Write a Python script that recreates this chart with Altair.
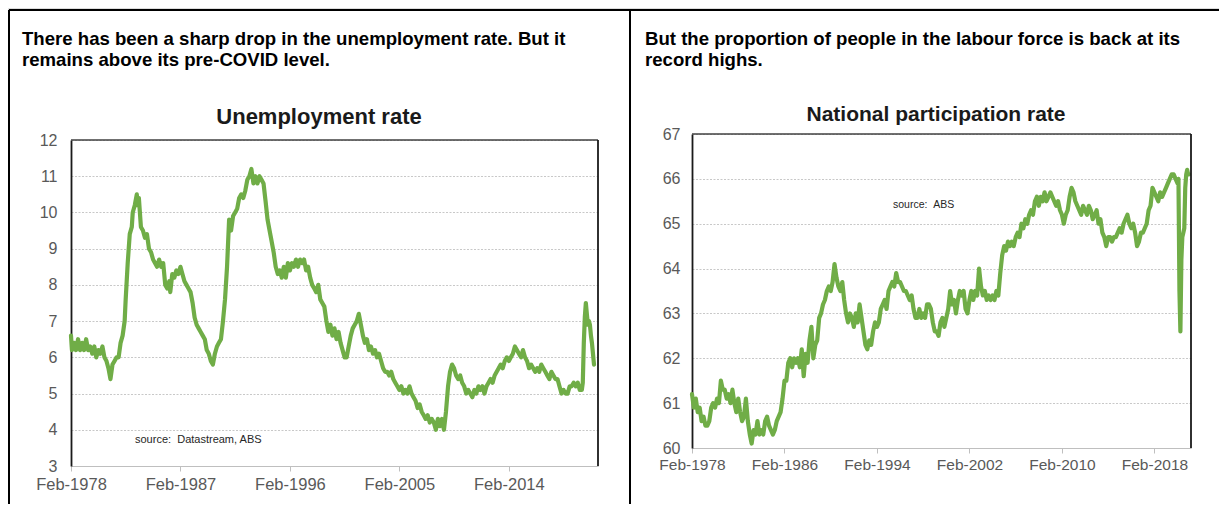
import altair as alt
import pandas as pd

# ---------------- data ----------------
unemp_dates = [
    "1978-02", "1978-03", "1978-05", "1978-07", "1978-09", "1978-11",
    "1979-01", "1979-03", "1979-05", "1979-07", "1979-09", "1979-11",
    "1980-01", "1980-03", "1980-05", "1980-07", "1980-09", "1980-11",
    "1981-01", "1981-03", "1981-05", "1981-07", "1981-09", "1981-11",
    "1982-01", "1982-03", "1982-05", "1982-07", "1982-08", "1982-10", "1982-12",
    "1983-02", "1983-03", "1983-05", "1983-07", "1983-08", "1983-09", "1983-11",
    "1984-01", "1984-03", "1984-05", "1984-07", "1984-09", "1984-11",
    "1985-01", "1985-03", "1985-05", "1985-07", "1985-09", "1985-11",
    "1986-01", "1986-03", "1986-04", "1986-06", "1986-08", "1986-10", "1986-12",
    "1987-02", "1987-04", "1987-06", "1987-08", "1987-10", "1987-12",
    "1988-02", "1988-04", "1988-06", "1988-08", "1988-10", "1988-12",
    "1989-02", "1989-04", "1989-06", "1989-08", "1989-10", "1989-12",
    "1990-02", "1990-04", "1990-06", "1990-08", "1990-10", "1990-12",
    "1991-02", "1991-04", "1991-06", "1991-08", "1991-10", "1991-12",
    "1992-02", "1992-04", "1992-06", "1992-08", "1992-10", "1992-12",
    "1993-02", "1993-04", "1993-06", "1993-08", "1993-10", "1993-12",
    "1994-02", "1994-04", "1994-06", "1994-08", "1994-10", "1994-12",
    "1995-02", "1995-04", "1995-06", "1995-08", "1995-10", "1995-12",
    "1996-02", "1996-04", "1996-06", "1996-08", "1996-10", "1996-12",
    "1997-02", "1997-04", "1997-06", "1997-08", "1997-10", "1997-12",
    "1998-02", "1998-04", "1998-06", "1998-08", "1998-10", "1998-12",
    "1999-02", "1999-04", "1999-06", "1999-08", "1999-10", "1999-12",
    "2000-02", "2000-04", "2000-06", "2000-08", "2000-10", "2000-12",
    "2001-02", "2001-04", "2001-06", "2001-08", "2001-10", "2001-12",
    "2002-02", "2002-04", "2002-06", "2002-08", "2002-10", "2002-12",
    "2003-02", "2003-04", "2003-06", "2003-08", "2003-10", "2003-12",
    "2004-02", "2004-04", "2004-06", "2004-08", "2004-10", "2004-12",
    "2005-02", "2005-04", "2005-06", "2005-08", "2005-10", "2005-12",
    "2006-02", "2006-04", "2006-06", "2006-08", "2006-10", "2006-12",
    "2007-02", "2007-04", "2007-06", "2007-08", "2007-10", "2007-12",
    "2008-02", "2008-04", "2008-06", "2008-08", "2008-10", "2008-12",
    "2009-02", "2009-04", "2009-06", "2009-08", "2009-10", "2009-12",
    "2010-02", "2010-04", "2010-06", "2010-08", "2010-10", "2010-12",
    "2011-02", "2011-04", "2011-06", "2011-08", "2011-10", "2011-12",
    "2012-02", "2012-04", "2012-06", "2012-08", "2012-10", "2012-12",
    "2013-02", "2013-04", "2013-06", "2013-08", "2013-10", "2013-12",
    "2014-02", "2014-04", "2014-06", "2014-08", "2014-10", "2014-12",
    "2015-02", "2015-04", "2015-06", "2015-08", "2015-10", "2015-12",
    "2016-02", "2016-04", "2016-06", "2016-08", "2016-10", "2016-12",
    "2017-02", "2017-04", "2017-06", "2017-08", "2017-10", "2017-12",
    "2018-02", "2018-04", "2018-06", "2018-08", "2018-10", "2018-12",
    "2019-02", "2019-04", "2019-06", "2019-08", "2019-10", "2019-12",
    "2020-02", "2020-03", "2020-04", "2020-05", "2020-06", "2020-07",
    "2020-08", "2020-09", "2020-10", "2020-11", "2020-12", "2021-01", "2021-02",
]
unemp_values = [
    6.6, 6.2, 6.4, 6.2, 6.5, 6.2,
    6.4, 6.2, 6.5, 6.2, 6.3, 6.1,
    6.3, 6.0, 6.2, 6.1, 6.3, 6.0,
    5.9, 5.7, 5.4, 5.8, 5.9, 6.0,
    6.0, 6.4, 6.6, 7.0, 7.6, 8.6, 9.4,
    9.6, 10.0, 10.2, 10.5, 10.2, 10.4, 9.6,
    9.5, 9.3, 9.4, 9.0, 8.9, 8.7,
    8.6, 8.5, 8.7, 8.5, 8.6, 8.0,
    7.9, 8.1, 7.8, 8.3, 8.2, 8.4, 8.3,
    8.5, 8.3, 8.1, 8.0, 7.9, 7.8,
    7.5, 7.1, 6.9, 6.8, 6.7, 6.6,
    6.5, 6.2, 6.1, 5.9, 5.8, 6.1,
    6.3, 6.4, 6.5, 7.0, 7.6, 8.5,
    9.8, 9.5, 9.9, 10.0, 10.1, 10.4,
    10.5, 10.4, 10.6, 10.9, 11.0, 11.2,
    10.8, 11.0, 10.8, 11.0, 10.9, 10.8,
    10.3, 9.8, 9.5, 9.2, 8.9, 8.5,
    8.3, 8.4, 8.2, 8.5, 8.2, 8.6,
    8.4, 8.6, 8.5, 8.7, 8.5, 8.7,
    8.6, 8.7, 8.4, 8.5, 8.2, 8.0,
    7.9, 7.8, 8.0, 7.6, 7.5, 7.4,
    7.0, 6.7, 6.9, 6.6, 6.8, 6.5,
    6.7, 6.4, 6.2, 6.0, 6.0, 6.3,
    6.6, 6.8, 6.9, 7.0, 7.2, 6.9,
    6.6, 6.4, 6.5, 6.2, 6.3, 6.1,
    6.2, 6.0, 6.1, 5.9, 5.7, 5.6,
    5.6, 5.5, 5.6, 5.4, 5.3, 5.2,
    5.1, 5.2, 5.0, 5.1, 5.0, 5.2,
    5.0, 4.9, 4.8, 4.6, 4.7, 4.5,
    4.4, 4.3, 4.4, 4.2, 4.3, 4.2,
    4.0, 4.3, 4.1, 4.3, 4.0, 4.5,
    5.2, 5.6, 5.8, 5.7, 5.5, 5.4,
    5.5, 5.3, 5.2, 5.0, 5.1, 5.0,
    4.9, 5.1, 5.0, 5.2, 5.1, 5.2,
    5.0, 5.2, 5.3, 5.4, 5.3, 5.5,
    5.6, 5.7, 5.8, 5.7, 5.9, 6.0,
    5.9, 6.0, 6.1, 6.3, 6.2, 6.1,
    6.0, 6.2, 6.0, 5.9, 5.7, 5.8,
    5.7, 5.6, 5.7, 5.6, 5.8, 5.7,
    5.6, 5.5, 5.4, 5.6, 5.5, 5.4,
    5.4, 5.2, 5.0, 5.1, 5.0, 5.0,
    5.2, 5.2, 5.3, 5.2, 5.3, 5.1,
    5.1, 5.3, 6.4, 7.1, 7.5, 7.2,
    6.9, 7.0, 6.9, 6.6, 6.4, 6.1, 5.8,
]

part_dates = [
    "1978-02", "1978-04", "1978-06", "1978-08", "1978-10", "1978-12",
    "1979-02", "1979-04", "1979-06", "1979-08", "1979-10", "1979-12",
    "1980-02", "1980-04", "1980-06", "1980-08", "1980-10", "1980-12",
    "1981-02", "1981-04", "1981-06", "1981-08", "1981-10", "1981-12",
    "1982-02", "1982-04", "1982-06", "1982-08", "1982-10", "1982-12",
    "1983-02", "1983-04", "1983-06", "1983-08", "1983-10", "1983-12",
    "1984-02", "1984-04", "1984-06", "1984-08", "1984-10", "1984-12",
    "1985-02", "1985-04", "1985-06", "1985-08", "1985-10", "1985-12",
    "1986-02", "1986-04", "1986-06", "1986-08", "1986-10", "1986-12",
    "1987-02", "1987-04", "1987-06", "1987-08", "1987-10", "1987-12",
    "1988-02", "1988-04", "1988-06", "1988-08", "1988-10", "1988-12",
    "1989-02", "1989-04", "1989-06", "1989-08", "1989-10", "1989-12",
    "1990-02", "1990-04", "1990-06", "1990-08", "1990-10", "1990-12",
    "1991-02", "1991-04", "1991-06", "1991-08", "1991-10", "1991-12",
    "1992-02", "1992-04", "1992-06", "1992-08", "1992-10", "1992-12",
    "1993-02", "1993-04", "1993-06", "1993-08", "1993-10", "1993-12",
    "1994-02", "1994-04", "1994-06", "1994-08", "1994-10", "1994-12",
    "1995-02", "1995-04", "1995-06", "1995-08", "1995-10", "1995-12",
    "1996-02", "1996-04", "1996-06", "1996-08", "1996-10", "1996-12",
    "1997-02", "1997-04", "1997-06", "1997-08", "1997-10", "1997-12",
    "1998-02", "1998-04", "1998-06", "1998-08", "1998-10", "1998-12",
    "1999-02", "1999-04", "1999-06", "1999-08", "1999-10", "1999-12",
    "2000-02", "2000-04", "2000-06", "2000-08", "2000-10", "2000-12",
    "2001-02", "2001-04", "2001-06", "2001-08", "2001-10", "2001-12",
    "2002-02", "2002-04", "2002-06", "2002-08", "2002-10", "2002-12",
    "2003-02", "2003-04", "2003-06", "2003-08", "2003-10", "2003-12",
    "2004-02", "2004-04", "2004-06", "2004-08", "2004-10", "2004-12",
    "2005-02", "2005-04", "2005-06", "2005-08", "2005-10", "2005-12",
    "2006-02", "2006-04", "2006-06", "2006-08", "2006-10", "2006-12",
    "2007-02", "2007-04", "2007-06", "2007-08", "2007-10", "2007-12",
    "2008-02", "2008-04", "2008-06", "2008-08", "2008-10", "2008-12",
    "2009-02", "2009-04", "2009-06", "2009-08", "2009-10", "2009-12",
    "2010-02", "2010-04", "2010-06", "2010-08", "2010-10", "2010-12",
    "2011-02", "2011-04", "2011-06", "2011-08", "2011-10", "2011-12",
    "2012-02", "2012-04", "2012-06", "2012-08", "2012-10", "2012-12",
    "2013-02", "2013-04", "2013-06", "2013-08", "2013-10", "2013-12",
    "2014-02", "2014-04", "2014-06", "2014-08", "2014-10", "2014-12",
    "2015-02", "2015-04", "2015-06", "2015-08", "2015-10", "2015-12",
    "2016-02", "2016-04", "2016-06", "2016-08", "2016-10", "2016-12",
    "2017-02", "2017-04", "2017-06", "2017-08", "2017-10", "2017-12",
    "2018-02", "2018-04", "2018-06", "2018-08", "2018-10", "2018-12",
    "2019-02", "2019-04", "2019-06", "2019-08", "2019-10", "2019-12",
    "2020-02", "2020-03", "2020-04", "2020-05", "2020-06", "2020-07",
    "2020-08", "2020-09", "2020-10", "2020-11", "2020-12", "2021-01", "2021-02",
]
part_values = [
    61.2, 60.9, 61.1, 60.8, 60.9, 60.6,
    60.7, 60.5, 60.5, 60.6, 60.9, 61.0,
    60.9, 61.1, 61.0, 61.5, 61.3, 61.3,
    61.1, 61.2, 61.0, 61.3, 61.0, 60.8,
    61.1, 60.8, 60.6, 60.7, 61.1, 60.6,
    60.3, 60.1, 60.4, 60.3, 60.6, 60.3,
    60.4, 60.3, 60.6, 60.7, 60.5, 60.4,
    60.3, 60.4, 60.6, 60.7, 60.8, 61.1,
    61.5, 61.5, 61.9, 62.0, 61.8, 62.0,
    61.9, 62.0, 61.8, 62.2, 61.6, 62.1,
    61.9, 62.4, 62.7, 62.0, 62.3, 62.4,
    62.9, 63.0, 63.2, 63.3, 63.5, 63.6,
    63.5, 63.7, 64.1, 63.8, 63.6, 63.5,
    63.7, 63.3, 63.0, 62.8, 63.0, 62.9,
    62.7, 63.0, 62.8, 63.2, 62.9, 62.6,
    62.3, 62.2, 62.4, 62.3, 62.6, 62.8,
    62.7, 62.8, 63.1, 63.2, 63.3, 63.1,
    63.5, 63.6, 63.7, 63.6, 63.9, 63.7,
    63.7, 63.6, 63.5, 63.5, 63.4, 63.3,
    63.4, 63.1, 62.9, 62.9, 63.1, 62.9,
    63.0, 62.9, 63.2, 63.2, 63.1, 62.8,
    62.6, 62.6, 62.5, 62.8, 62.9, 62.7,
    62.9, 63.1, 63.5, 63.2, 63.3, 63.0,
    63.3, 63.5, 63.4, 63.5, 63.1, 63.0,
    63.3, 63.5, 63.3, 63.5, 63.4, 64.0,
    63.6, 63.4, 63.5, 63.3, 63.4, 63.3,
    63.4, 63.3, 63.5, 63.4, 63.9, 64.3,
    64.5, 64.4, 64.6, 64.5, 64.6, 64.5,
    64.7, 64.8, 64.7, 65.0, 64.9, 65.1,
    65.0, 65.2, 65.3, 65.2, 65.5, 65.6,
    65.4, 65.6, 65.5, 65.7, 65.5, 65.6,
    65.7, 65.6, 65.5, 65.4, 65.5, 65.3,
    65.2, 65.0, 65.2, 65.3, 65.6, 65.8,
    65.7, 65.5, 65.4, 65.3, 65.2, 65.4,
    65.3, 65.2, 65.4, 65.3, 65.1, 65.2,
    65.3, 65.0, 65.1, 64.8, 64.7, 64.5,
    64.7, 64.7, 64.6, 64.7, 64.7, 64.8,
    64.9, 64.8, 65.0, 65.1, 65.2, 65.0,
    64.9, 65.0, 64.8, 64.5, 64.6, 64.8,
    64.8, 64.9, 65.0, 65.3, 65.4, 65.8,
    65.7, 65.6, 65.5, 65.7, 65.6, 65.7,
    65.8, 65.9, 66.0, 66.1, 66.1, 66.0,
    65.9, 66.0, 63.5, 62.6, 64.2, 64.7,
    64.8, 64.9, 65.8, 66.1, 66.2, 66.1, 66.1,
]

unemp_yticks = [3, 4, 5, 6, 7, 8, 9, 10, 11, 12]
part_yticks = [60, 61, 62, 63, 64, 65, 66, 67]
unemp_xtick_years = [1978, 1987, 1996, 2005, 2014]
part_xtick_years = [1978, 1986, 1994, 2002, 2010, 2018]

left_caption = ["There has been a sharp drop in the unemployment rate. But it",
                "remains above its pre-COVID level."]
right_caption = ["But the proportion of people in the labour force is back at its",
                 "record highs."]
left_title = "Unemployment rate"
right_title = "National participation rate"
left_source = "source:\u00a0\u00a0Datastream, ABS"
right_source = "source:\u00a0\u00a0ABS"

# ---------------- styling ----------------
GREEN = "#70AD47"
FONT = "Liberation Sans"
LABEL = "#595959"
GRID = "#c8c8c8"
W, H = 1211, 496


def dt(year, month):
    return alt.DateTime(year=year, month=month, date=1, utc=True)


def full(d):
    return d + "-01"


u_df = pd.DataFrame({"date": [full(d) for d in unemp_dates], "value": unemp_values})
p_df = pd.DataFrame({"date": [full(d) for d in part_dates], "value": part_values})
one = alt.Data(values=[{"k": 1}])


def line_layer(df, xdom, xrange, ydom, yrange, xticks, yticks, xoff, yoff,
               xlabsize, xlabpad, ylabpad):
    return alt.Chart(df).mark_line(
        color=GREEN, strokeWidth=4.2, strokeJoin="round", strokeCap="round"
    ).encode(
        x=alt.X("date:T",
                scale=alt.Scale(type="utc", domain=xdom, range=xrange),
                axis=alt.Axis(values=[dt(y, 2) for y in xticks], format="%b-%Y",
                              orient="bottom", offset=xoff, grid=False,
                              domainColor="#bfbfbf", domainWidth=1.2,
                              tickColor="#bfbfbf", tickSize=5, labelPadding=xlabpad,
                              labelFontSize=xlabsize, labelColor=LABEL, labelFont=FONT,
                              labelFlush=False, labelOverlap=False, title=None)),
        y=alt.Y("value:Q",
                scale=alt.Scale(domain=ydom, range=yrange, nice=False, zero=False),
                axis=alt.Axis(values=yticks, orient="left", offset=yoff, grid=True,
                              gridColor=GRID, gridDash=[2, 1.5], gridWidth=1,
                              domainColor="#1a1a1a", domainWidth=1.8, ticks=False,
                              labelPadding=ylabpad, labelFontSize=16, labelColor=LABEL,
                              labelFont=FONT, title=None)),
    )


def text_layer(text, x, y, size, bold=False, color="#000000", align="left",
               baseline="alphabetic", line_height=None):
    kw = dict(font=FONT, fontSize=size, fontWeight="bold" if bold else "normal",
              color=color, align=align, baseline=baseline)
    if line_height is not None:
        kw["lineHeight"] = line_height
    return alt.Chart(one).mark_text(**kw).encode(
        x=alt.value(x), y=alt.value(y), text=alt.value(text))


def hrule(x1, x2, y, color, width):
    return alt.Chart(one).mark_rule(color=color, strokeWidth=width).encode(
        x=alt.value(x1), x2=alt.value(x2), y=alt.value(y))


def vrule(x, y1, y2, color, width):
    return alt.Chart(one).mark_rule(color=color, strokeWidth=width).encode(
        x=alt.value(x), y=alt.value(y1), y2=alt.value(y2))


# left panel geometry (plot rectangle)
LX0, LX1, LY0, LY1 = 63, 590, 132, 458
# right panel geometry
RX0, RX1, RY0, RY1 = 684, 1183, 126, 440

left_line = line_layer(u_df, [dt(1978, 2), dt(2021, 6)], [LX0, LX1], [3, 12], [LY1, LY0],
                       unemp_xtick_years, unemp_yticks, -(H - LY1), -LX0, 16.5, 5, 14)
right_line = line_layer(p_df, [dt(1978, 2), dt(2021, 4)], [RX0, RX1], [60, 67], [RY1, RY0],
                        part_xtick_years, part_yticks, -(H - RY1), -RX0, 15.5, 4, 12)

layers = [
    # outer panel frames
    hrule(1, W, 2, "#000000", 2),
    vrule(1, 2, H, "#000000", 2),
    vrule(622, 2, H, "#000000", 2),
    # left panel
    left_line,
    hrule(LX0, LX1, LY0, "#404040", 1.3),
    vrule(LX1, LY0, LY1, "#1a1a1a", 1.8),
    text_layer(left_caption, 14, 36.5, 18.6, bold=True, line_height=21.5),
    text_layer(left_title, 311, 115.7, 22, bold=True, color="#1a1a1a", align="center"),
    text_layer(left_source, 127, 432, 11, color="#262626", baseline="middle"),
    # right panel
    right_line,
    hrule(RX0, RX1, RY0, "#404040", 1.3),
    vrule(RX1, RY0, RY1, "#1a1a1a", 1.8),
    text_layer(right_caption, 637, 36.5, 18.6, bold=True, line_height=21.5),
    text_layer(right_title, 928, 113, 21, bold=True, color="#1a1a1a", align="center"),
    text_layer(right_source, 885, 197, 10.5, color="#262626", baseline="middle"),
]

chart = alt.layer(*layers).resolve_scale(
    x="independent", y="independent"
).properties(
    width=W, height=H, padding=0,
    autosize=alt.AutoSizeParams(type="none"),
).configure_view(stroke=None).configure(font=FONT)

chart.save("out.html", embed_options={"renderer": "svg", "actions": False})
